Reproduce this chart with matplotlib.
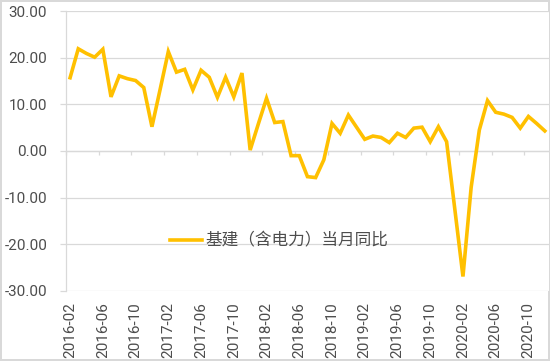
import matplotlib
matplotlib.use("Agg")
import matplotlib.pyplot as plt
from matplotlib.ticker import FixedLocator, FuncFormatter
import pandas as pd

# ---- data ----
months = [p.strftime("%Y-%m") for p in pd.period_range("2016-02", "2020-12", freq="M")]
values = [
    15.7, 21.9, 20.9, 20.1, 21.8, 11.6, 16.1, 15.5, 15.1, 13.6, 5.2,          # 2016-02..2016-12
    13.2, 21.3, 16.9, 17.5, 13.1, 17.3, 15.8, 11.5, 15.8, 11.6, 16.7, 0.2,    # 2017
    5.8, 11.3, 6.1, 6.3, -1.0, -1.0, -5.5, -5.7, -1.9, 5.9, 3.8, 7.7,          # 2018
    5.1, 2.5, 3.2, 2.9, 1.8, 3.8, 2.9, 4.9, 5.1, 2.0, 5.2, 2.0,                # 2019
    -12.4, -26.9, -7.8, 4.5, 10.8, 8.3, 7.9, 7.2, 4.9, 7.4, 5.9, 4.3,          # 2020
]
series_name = "基建（含电力）当月同比"
y_ticks = [-30, -20, -10, 0, 10, 20, 30]
label_step = 4

# ---- style ----
line_color = "#FFC000"
grid_color = "#D9D9D9"
text_color = "#4D4D4D"
tick_font = "Roboto"

fig = plt.figure(figsize=(5.5, 3.61), dpi=100)
fig.patch.set_facecolor("white")
fig.patch.set_edgecolor(grid_color)
fig.patch.set_linewidth(1.5)

ax = fig.add_axes([0.12, 0.194, 0.878, 0.7755])
x = list(range(len(values)))
ax.plot(x, values, color=line_color, linewidth=2.6, label=series_name,
        solid_joinstyle="miter", zorder=3)

ax.set_xlim(-0.5, len(values) - 0.5)
ax.set_ylim(y_ticks[0], y_ticks[-1])
ax.yaxis.set_major_locator(FixedLocator(y_ticks))
ax.yaxis.set_major_formatter(FuncFormatter(lambda v, p: f"{v:.2f}"))
ax.grid(axis="y", color=grid_color, linewidth=0.9, zorder=0)
ax.set_axisbelow(True)

for s in ["top", "right", "bottom"]:
    ax.spines[s].set_visible(False)
ax.spines["left"].set_color(grid_color)
ax.spines["left"].set_linewidth(0.9)

ax.tick_params(axis="y", length=4.5, width=0.9, color=grid_color, pad=9,
               labelsize=11, labelcolor=text_color)
ax.set_xticks(x[::label_step])
ax.set_xticklabels(months[::label_step], rotation=90)
ax.tick_params(axis="x", length=0, pad=8, labelsize=11, labelcolor=text_color)
for lab in ax.get_xticklabels() + ax.get_yticklabels():
    lab.set_fontfamily(tick_font)

# category axis drawn at y = 0 with tick marks between categories
sec = ax.secondary_xaxis(0, transform=ax.transData)
sec.set_xticks([i - 0.5 for i in x[::label_step]])
sec.tick_params(axis="x", length=3, width=0.9, color=grid_color, labelbottom=False)
sec.spines["bottom"].set_color(grid_color)
sec.spines["bottom"].set_linewidth(0.9)

leg = ax.legend(loc="center left", bbox_to_anchor=(0.215, 0.179), frameon=False,
                handlelength=1.95, handletextpad=0.2, borderpad=0, borderaxespad=0,
                prop={"family": ["Noto Sans CJK SC", "DejaVu Sans"], "size": 12})
for t in leg.get_texts():
    t.set_color(text_color)

fig.savefig("out.png", dpi=100, facecolor=fig.get_facecolor(), edgecolor=fig.get_edgecolor())
